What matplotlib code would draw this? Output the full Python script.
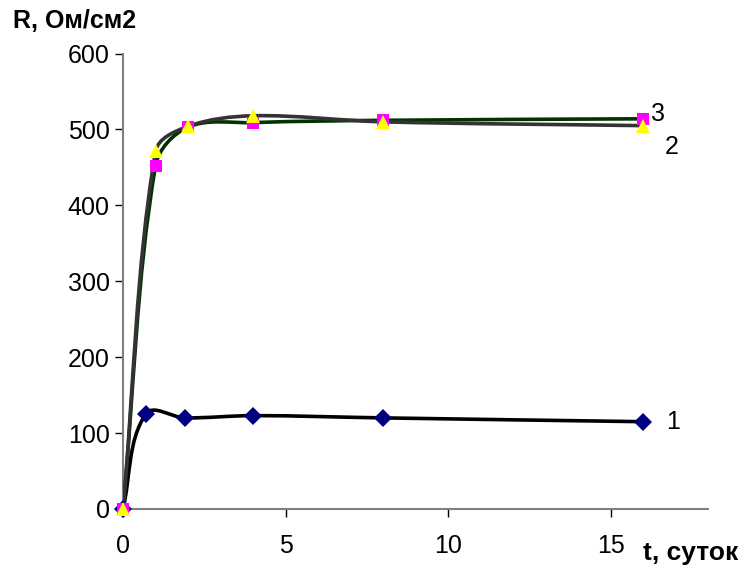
import matplotlib.pyplot as plt
from matplotlib.path import Path
from matplotlib.patches import PathPatch
import numpy as np

plt.rcParams['font.family'] = ['Liberation Sans', 'DejaVu Sans']

# data
t_1 = [0, 0.7, 1.9, 4, 8, 16]
r_1 = [0, 125, 120, 123, 120, 115]

t_2 = [0, 1, 2, 4, 8, 16]
r_2 = [0, 471, 504, 518, 510, 505]

t_3 = [0, 1, 2, 4, 8, 16]
r_3 = [0, 452, 503, 509, 512, 514]

curve_labels = ['1', '2', '3']

# rough pixels per data unit, used only to shape the smoothing
SX, SY = 32.4, 0.758


# Excel-like smoothed line: cubic bezier, tangent from the neighbours,
# handle length limited by the segment length (in screen proportions)
def smooth_path(x, y):
    p = np.column_stack([np.asarray(x, float) * SX, np.asarray(y, float) * SY])
    n = len(p)
    tang = []
    for i in range(n):
        a = p[max(i - 1, 0)]
        b = p[min(i + 1, n - 1)]
        d = b - a
        tang.append(d / np.hypot(*d))
    verts = [p[0]]
    codes = [Path.MOVETO]
    for i in range(n - 1):
        L = np.hypot(*(p[i + 1] - p[i])) / 3
        verts += [p[i] + tang[i] * L, p[i + 1] - tang[i + 1] * L, p[i + 1]]
        codes += [Path.CURVE4] * 3
    verts = np.array(verts) / [SX, SY]
    return Path(verts, codes)


fig = plt.figure(figsize=(7.47, 5.78), dpi=100)
ax = fig.add_axes([0.1647, 0.1194, 0.948 - 0.1647, 0.9074 - 0.1194])

series = [
    (t_1, r_1, 'black', 'D', '#000080', 9, 3),
    (t_3, r_3, '#003300', 's', '#ff00ff', 8.5, 4),
    (t_2, r_2, '#333333', '^', '#ffff00', 9.5, 5),
]
for t, r, lc, mk, mc, ms, z in series:
    ax.add_patch(PathPatch(smooth_path(t, r), facecolor='none', edgecolor=lc,
                           lw=2.6, zorder=z, capstyle='round', joinstyle='round'))
    ax.plot(t, r, linestyle='None', marker=mk, markersize=ms, color=mc,
            markeredgewidth=0, zorder=z + 3, clip_on=False)

ax.text(16.7, 115, curve_labels[0], fontsize=18, va='center', ha='left')
ax.text(16.65, 477, curve_labels[1], fontsize=18, va='center', ha='left')
ax.text(16.25, 520, curve_labels[2], fontsize=18, va='center', ha='left')

ax.set_xlim(0, 18)
ax.set_ylim(0, 600)
ax.set_xticks([0, 5, 10, 15])
ax.set_yticks(range(0, 601, 100))
ax.tick_params(labelsize=18, direction='out', length=6, color='black', width=1)
ax.tick_params(axis='x', pad=12)
ax.spines['top'].set_visible(False)
ax.spines['right'].set_visible(False)
for s in ['left', 'bottom']:
    ax.spines[s].set_color('#808080')
    ax.spines[s].set_linewidth(1.5)

fig.text(0.017, 0.952, 'R, Ом/см2', fontsize=18, fontweight='bold', va='baseline')
fig.text(0.861, 0.031, 't, суток', fontsize=19, fontweight='bold', va='baseline')

fig.savefig('out.png', dpi=100)
